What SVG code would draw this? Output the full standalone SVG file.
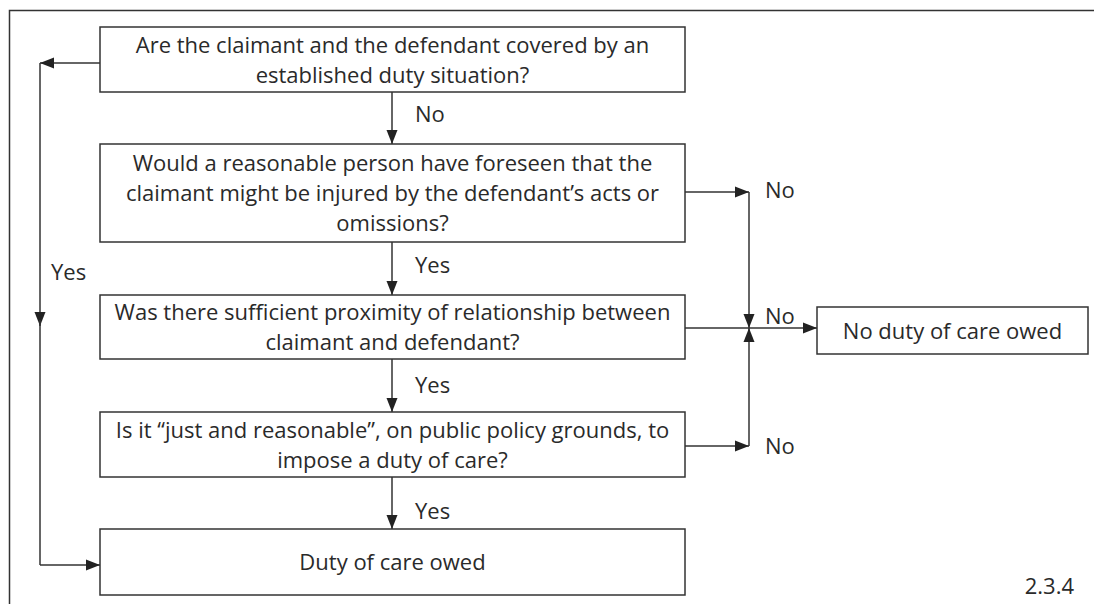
<svg xmlns="http://www.w3.org/2000/svg" width="1094" height="604" viewBox="0 0 1094 604">
<style>
.box{fill:#fff;stroke:#333;stroke-width:1.5}
.ln{fill:none;stroke:#333;stroke-width:1.5}
text{font-family:"Open Sans","Noto Sans","Liberation Sans",sans-serif;font-size:22px;fill:#2a2a2a}
.c{text-anchor:middle}
</style>
<defs>
<marker id="ah" markerUnits="userSpaceOnUse" markerWidth="15" markerHeight="12" refX="14" refY="6" orient="auto">
<path d="M0,0.5 L14,6 L0,11.5 Z" fill="#222"/>
</marker>
</defs>
<g id="frame">
<path class="ln" d="M1094,10.5 H9.5 V604"/>
</g>
<g id="connectors">
<line class="ln" x1="392" y1="92" x2="392" y2="144" marker-end="url(#ah)"/>
<line class="ln" x1="392" y1="242" x2="392" y2="295" marker-end="url(#ah)"/>
<line class="ln" x1="392" y1="359" x2="392" y2="412" marker-end="url(#ah)"/>
<line class="ln" x1="392" y1="477" x2="392" y2="529" marker-end="url(#ah)"/>
<line class="ln" x1="100" y1="63" x2="40" y2="63" marker-end="url(#ah)"/>
<line class="ln" x1="40" y1="63" x2="40" y2="326" marker-end="url(#ah)"/>
<line class="ln" x1="40" y1="320" x2="40" y2="565"/>
<line class="ln" x1="40" y1="565" x2="100" y2="565" marker-end="url(#ah)"/>
<line class="ln" x1="685" y1="192" x2="749" y2="192" marker-end="url(#ah)"/>
<line class="ln" x1="749" y1="192" x2="749" y2="328" marker-end="url(#ah)"/>
<line class="ln" x1="749" y1="446" x2="749" y2="328" marker-end="url(#ah)"/>
<line class="ln" x1="685" y1="446" x2="749" y2="446" marker-end="url(#ah)"/>
<line class="ln" x1="685" y1="328" x2="817" y2="328" marker-end="url(#ah)"/>
<text x="415" y="122">No</text>
<text x="415" y="273">Yes</text>
<text x="415" y="393">Yes</text>
<text x="415" y="519">Yes</text>
<text x="51" y="280">Yes</text>
<text x="765" y="198">No</text>
<text x="765" y="324">No</text>
<text x="765" y="454">No</text>
</g>
<g id="q1">
<rect class="box" x="100" y="27" width="585" height="65"/>
<text class="c" x="392.5" y="53">Are the claimant and the defendant covered by an</text>
<text class="c" x="392.5" y="83">established duty situation?</text>
</g>
<g id="q2">
<rect class="box" x="100" y="144" width="585" height="98"/>
<text class="c" x="392.5" y="171">Would a reasonable person have foreseen that the</text>
<text class="c" x="392.5" y="201">claimant might be injured by the defendant’s acts or</text>
<text class="c" x="392.5" y="231">omissions?</text>
</g>
<g id="q3">
<rect class="box" x="100" y="295" width="585" height="64"/>
<text class="c" x="392.5" y="320">Was there sufficient proximity of relationship between</text>
<text class="c" x="392.5" y="350">claimant and defendant?</text>
</g>
<g id="q4">
<rect class="box" x="100" y="412" width="585" height="65"/>
<text class="c" x="392.5" y="438">Is it “just and reasonable”, on public policy grounds, to</text>
<text class="c" x="392.5" y="468">impose a duty of care?</text>
</g>
<g id="owed">
<rect class="box" x="100" y="529" width="585" height="66"/>
<text class="c" x="392.5" y="570">Duty of care owed</text>
</g>
<g id="noduty">
<rect class="box" x="817" y="307" width="271" height="47"/>
<text class="c" x="952.5" y="339">No duty of care owed</text>
</g>
<g id="ref">
<text x="1074" y="594" text-anchor="end">2.3.4</text>
</g>
</svg>
